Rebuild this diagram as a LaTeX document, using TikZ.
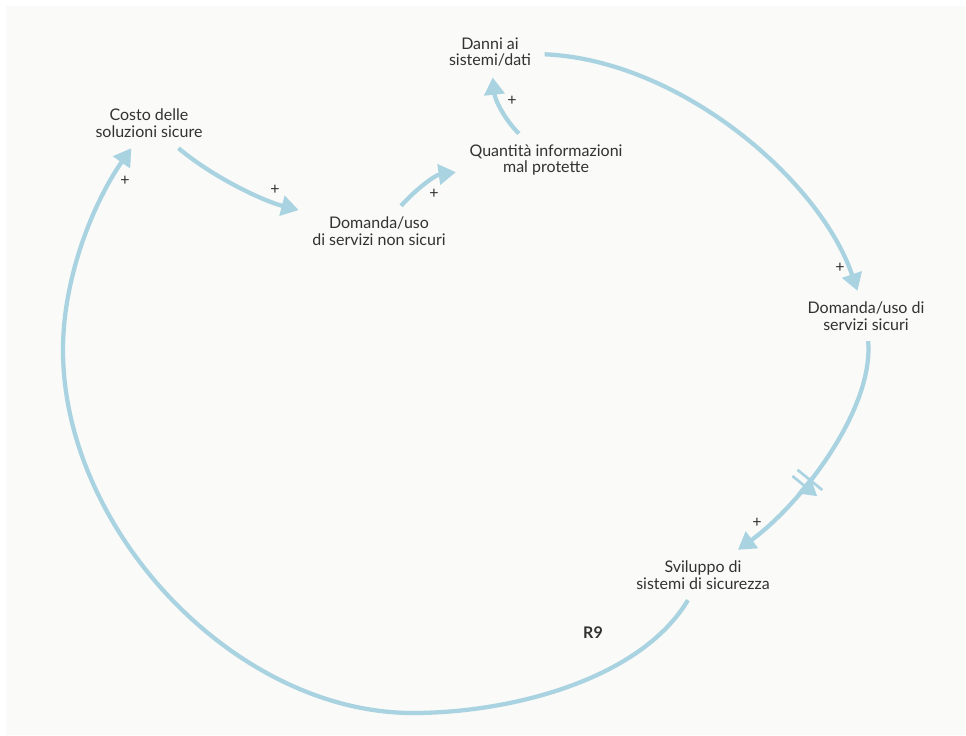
\documentclass[tikz,border=0pt]{standalone}
\usepackage{fontspec}
\setmainfont{Lato}
\usepackage{tikz}
\usetikzlibrary{arrows.meta,decorations.markings}
\definecolor{loopblue}{RGB}{170,211,226}
\definecolor{labelgray}{RGB}{50,50,50}
\definecolor{paper}{RGB}{250,250,248}

\begin{document}
\begin{tikzpicture}[x=0.75pt,y=0.75pt,yscale=-1,xscale=1,
	var/.style={align=center, text=labelgray, font=\fontsize{12}{12.4}\selectfont, inner xsep=10pt, inner ysep=8pt},
	link/.style={draw=loopblue, line width=3.2pt, -{Triangle[length=13pt,width=15pt]}},
	sign/.style={text=labelgray, font=\fontsize{12}{12}\selectfont, inner sep=0.75pt},
	delay/.style={postaction={decorate, decoration={markings, mark=at position #1 with {\draw[loopblue, line width=2pt] (-3pt,-12pt) -- (-3pt,12pt) (3pt,-12pt) -- (3pt,12pt);}}}}
	]
	%Shape: Rectangle [background]
	\path[fill=white] (0,0) rectangle (966,735);
	\fill[paper] (6,6) rectangle (966,735);
	
	% Text Node
	\node[var] (costo) at (149,123) {Costo delle\\soluzioni sicure};
	% Text Node
	\node[var] (dns) at (379,231) {Domanda/uso\\di servizi non sicuri};
	% Text Node
	\node[var] (qi) at (546,160) {Quantità informazioni\\mal protette};
	% Text Node
	\node[var] (danni) at (490,52) {Danni ai\\sistemi/dati};
	% Text Node
	\node[var] (ds) at (866,316) {Domanda/uso di\\servizi sicuri};
	% Text Node
	\node[var] (sv) at (703,575) {Sviluppo di\\sistemi di sicurezza};
	% Text Node
	\node[text=labelgray, font=\fontsize{12}{12}\selectfont\bfseries] (r9) at (593,633) {R9};
	
	%Curve Lines
	\draw[link] (costo) .. controls (210,175) and (260,200) .. (dns);
	%Curve Lines
	\draw[link] (dns) .. controls (415,190) and (435,175) .. (qi);
	%Curve Lines
	\draw[link] (qi) .. controls (505,120) and (495,100) .. (danni);
	%Curve Lines
	\draw[link] (danni) .. controls (680,60) and (820,180) .. (ds);
	%Curve Lines
	\draw[link, delay=0.62] (ds) .. controls (874,410) and (800,505) .. (sv);
	%Curve Lines
	\draw[link] (sv) .. controls (640,680) and (510,713) .. (413,713) .. controls (235,713) and (63,530) .. (63,350) .. controls (63,275) and (95,200) .. (costo);
	
	% Text Node
	\node[sign] (s1) at (275,190) {+};
	% Text Node
	\node[sign] (s2) at (434,194) {+};
	% Text Node
	\node[sign] (s3) at (512,101) {+};
	% Text Node
	\node[sign] (s4) at (840,268) {+};
	% Text Node
	\node[sign] (s5) at (757,523) {+};
	% Text Node
	\node[sign] (s6) at (125,181) {+};
\end{tikzpicture}
\end{document}
